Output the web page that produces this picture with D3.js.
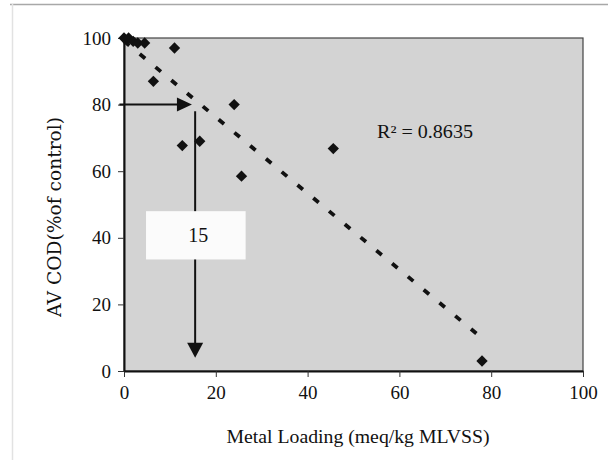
<!DOCTYPE html>
<html>
<head>
<meta charset="utf-8">
<script src="https://cdn.jsdelivr.net/npm/d3@7"></script>
<style>
  html, body { margin: 0; padding: 0; background: #fff; }
  svg { display: block; }
</style>
</head>
<body>
<svg id="chart" width="608" height="460"></svg>
<script>
// ---- data ----
const metalLoading = [0, 1, 2, 3, 4.5, 6.4, 11, 12.7, 16.5, 24, 25.6, 45.6, 78];
const avCod        = [100, 100, 99, 98.5, 98.5, 87, 97, 67.7, 69, 80, 58.5, 66.8, 3];
const xTicks = [0, 20, 40, 60, 80, 100];
const yTicks = [0, 20, 40, 60, 80, 100];
const xTitle = "Metal Loading (meq/kg MLVSS)";
const yTitle = "AV COD(%of control)";
const r2Label = "R² = 0.8635";
const annotValue = "15";
// annotation: horizontal arrow at 80% and vertical arrow at loading ~15
const hArrowX = [-1, 14.8];
const hArrowY = 80;
const vArrowX = 15.5;
const vArrowY = [78, 4];
const boxX = [4.8, 26.5];
const boxY = [48, 33.5];

const FONT = "Liberation Serif";
const FONT2 = "DejaVu Serif";

// ---- layout ----
const svg = d3.select("#chart");
const x = d3.scaleLinear().domain([0, 100]).range([124, 583]);
const y = d3.scaleLinear().domain([0, 100]).range([371, 38]);

// outer frame (partially visible)
svg.append("line").attr("x1", 10).attr("x2", 608).attr("y1", 4.5).attr("y2", 4.5)
  .attr("stroke", "#a8a8a8").attr("stroke-width", 1.5);
svg.append("line").attr("x1", 12.5).attr("x2", 12.5).attr("y1", 4).attr("y2", 460)
  .attr("stroke", "#e2e2e2").attr("stroke-width", 1.5);

// plot area
svg.append("rect")
  .attr("x", x(0)).attr("y", y(100))
  .attr("width", x(100) - x(0)).attr("height", y(0) - y(100))
  .attr("fill", "#d3d3d3").attr("stroke", "#444").attr("stroke-width", 1.2);

// axes
const xAxis = svg.append("g").attr("transform", `translate(0,${y(0)})`)
  .call(d3.axisBottom(x).tickValues(xTicks).tickSize(6).tickPadding(9).tickSizeOuter(0));
const yAxis = svg.append("g").attr("transform", `translate(${x(0)},0)`)
  .call(d3.axisLeft(y).tickValues(yTicks).tickSize(6).tickPadding(7).tickSizeOuter(0));
[xAxis, yAxis].forEach(g => {
  g.attr("font-family", FONT).attr("font-size", 19);
  g.select(".domain").attr("stroke", "#111").attr("stroke-width", 2);
  g.selectAll(".tick line").attr("stroke", "#333");
  g.selectAll(".tick text").attr("fill", "#111");
});

// trend line (least squares over the data)
const n = metalLoading.length;
const mx = d3.mean(metalLoading), my = d3.mean(avCod);
let sxy = 0, sxx = 0;
for (let i = 0; i < n; i++) {
  sxy += (metalLoading[i] - mx) * (avCod[i] - my);
  sxx += (metalLoading[i] - mx) ** 2;
}
const slope = sxy / sxx, intercept = my - slope * mx;
const xr = d3.extent(metalLoading);
svg.append("line")
  .attr("x1", x(xr[0])).attr("y1", y(intercept + slope * xr[0]))
  .attr("x2", x(xr[1])).attr("y2", y(intercept + slope * xr[1]))
  .attr("stroke", "#111").attr("stroke-width", 3.8)
  .attr("stroke-dasharray", "7 13.5");

// points
const diamond = d3.symbol().type(d3.symbolSquare).size(64);
svg.append("g").selectAll("path")
  .data(metalLoading.map((v, i) => [v, avCod[i]]))
  .join("path")
  .attr("d", diamond)
  .attr("transform", d => `translate(${x(d[0])},${y(d[1])}) rotate(45)`)
  .attr("fill", "#111");

// annotation arrows
const ann = svg.append("g");
ann.append("line")
  .attr("x1", x(hArrowX[0])).attr("x2", x(hArrowX[1]) - 14)
  .attr("y1", y(hArrowY)).attr("y2", y(hArrowY))
  .attr("stroke", "#111").attr("stroke-width", 2);
ann.append("path")
  .attr("d", `M${x(hArrowX[1])},${y(hArrowY)} l-15,-7 l0,14 z`)
  .attr("fill", "#111");
ann.append("line")
  .attr("x1", x(vArrowX)).attr("x2", x(vArrowX))
  .attr("y1", y(vArrowY[0])).attr("y2", y(vArrowY[1]) - 14)
  .attr("stroke", "#111").attr("stroke-width", 2);
ann.append("path")
  .attr("d", `M${x(vArrowX)},${y(vArrowY[1])} l-8,-15 l16,0 z`)
  .attr("fill", "#111");

// white label box
ann.append("rect")
  .attr("x", x(boxX[0])).attr("y", y(boxY[0]))
  .attr("width", x(boxX[1]) - x(boxX[0])).attr("height", y(boxY[1]) - y(boxY[0]))
  .attr("fill", "#fbfbfb");
ann.append("text")
  .attr("x", x(vArrowX) + 3).attr("y", (y(boxY[0]) + y(boxY[1])) / 2 + 7)
  .attr("text-anchor", "middle").attr("font-family", FONT).attr("font-size", 20)
  .attr("fill", "#111")
  .text(annotValue);

// R2 label
svg.append("text")
  .attr("x", 377).attr("y", 138)
  .attr("font-family", FONT).attr("font-size", 18).attr("fill", "#111")
  .attr("textLength", 96).attr("lengthAdjust", "spacingAndGlyphs")
  .text(r2Label);

// axis titles
svg.append("text")
  .attr("x", 358).attr("y", 443)
  .attr("text-anchor", "middle").attr("font-family", FONT).attr("font-size", 18)
  .attr("fill", "#111")
  .attr("textLength", 263).attr("lengthAdjust", "spacingAndGlyphs")
  .text(xTitle);
svg.append("text")
  .attr("transform", "translate(61,217) rotate(-90)")
  .attr("text-anchor", "middle").attr("font-family", FONT2).attr("font-size", 18)
  .attr("fill", "#111")
  .attr("textLength", 200).attr("lengthAdjust", "spacingAndGlyphs")
  .text(yTitle);
</script>
</body>
</html>
